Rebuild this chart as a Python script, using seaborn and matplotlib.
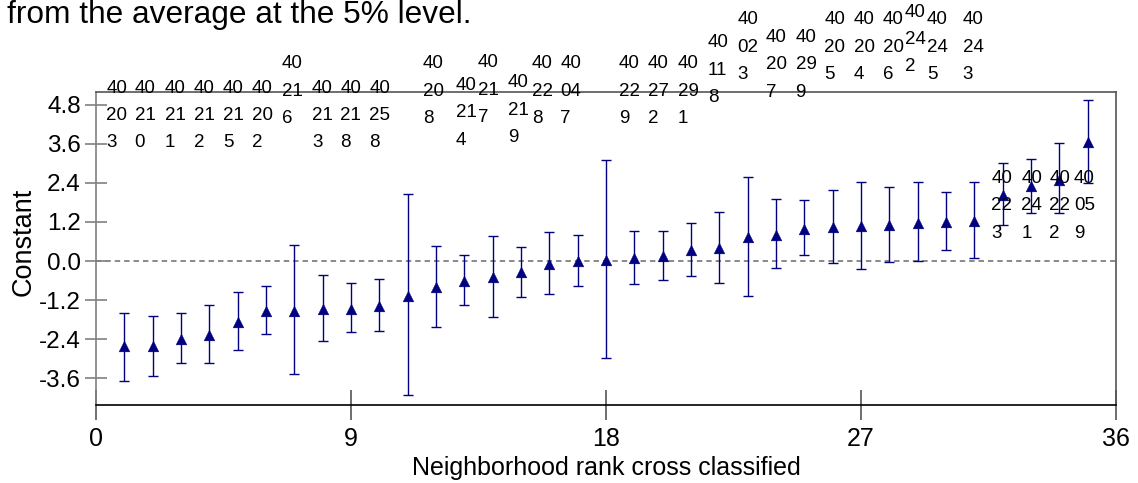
import numpy as np
import matplotlib
matplotlib.use("Agg")
import matplotlib.pyplot as plt
import seaborn as sns
import pandas as pd

# Neighbourhood residuals (constant) with 95% intervals, ranked
rank = list(range(1, 36))
estimate = [-2.62, -2.62, -2.40, -2.28, -1.87, -1.54, -1.52, -1.46, -1.46, -1.37,
            -1.06, -0.80, -0.62, -0.49, -0.33, -0.09, 0.00, 0.02, 0.08, 0.14,
            0.34, 0.39, 0.75, 0.80, 0.99, 1.06, 1.09, 1.11, 1.18, 1.21,
            1.24, 2.03, 2.29, 2.50, 3.67]
lower = [-3.67, -3.54, -3.13, -3.13, -2.74, -2.23, -3.46, -2.44, -2.19, -2.16,
         -4.12, -2.04, -1.36, -1.71, -1.09, -1.01, -0.78, -2.99, -0.71, -0.59,
         -0.46, -0.68, -1.06, -0.21, 0.19, -0.05, -0.24, -0.02, 0.00, 0.34,
         0.08, 1.12, 1.46, 1.49, 2.41]
upper = [-1.58, -1.68, -1.60, -1.35, -0.95, -0.78, 0.49, -0.43, -0.66, -0.54,
         2.05, 0.47, 0.19, 0.77, 0.44, 0.88, 0.81, 3.11, 0.93, 0.93,
         1.18, 1.50, 2.59, 1.89, 1.86, 2.18, 2.43, 2.26, 2.43, 2.13,
         2.43, 3.00, 3.14, 3.61, 4.93]
unit_id = ["40203", "40210", "40211", "40212", "40215", "40202", "40216", "40213",
           "40218", "40258", "", "40208", "40214", "40217", "40219", "40228",
           "40047", "", "40229", "40272", "40291", "40118", "40023", "40207",
           "40299", "40205", "40204", "40206", "40242", "40245", "40243",
           "40223", "40241", "40222", "40059"]

y_ticks = [-3.6, -2.4, -1.2, 0.0, 1.2, 2.4, 3.6, 4.8]
x_ticks = [0, 9, 18, 27, 36]

# placement of the identifier labels (shift from the point, height of the middle row)
label_dx = [-0.27, -0.27, -0.21, -0.19, -0.15, -0.13, -0.07, -0.01, -0.01, 0.02,
            0.0, -0.10, 0.06, -0.16, -0.10, -0.24, -0.24, 0.0, -0.18, -0.15,
            -0.10, -0.04, 0.02, 0.02, 0.06, 0.08, 0.12, 0.14, -0.09, -0.31,
            -0.04, -0.03, 0.03, 0.02, -0.12]
label_y = [4.47, 4.47, 4.47, 4.47, 4.47, 4.47, 5.21, 4.47, 4.47, 4.47,
           np.nan, 5.22, 4.55, 5.24, 4.63, 5.22, 5.22, np.nan, 5.22, 5.22,
           5.22, 5.86, 6.57, 6.03, 6.03, 6.57, 6.57, 6.57, 6.80, 6.57,
           6.57, 1.69, 1.69, 1.69, 1.69]

df = pd.DataFrame({"rank": rank, "estimate": estimate, "lower": lower, "upper": upper})

sns.set_theme(style="white")
plt.rcParams["font.family"] = ["Liberation Sans", "DejaVu Sans"]
plt.rcParams.update({"text.color": "black", "axes.labelcolor": "black",
                     "xtick.color": "black", "ytick.color": "black"})

navy = "#000080"
fig = plt.figure(figsize=(11.38, 4.83), dpi=100)
ax = fig.add_axes([96 / 1138, 78 / 483, 1020 / 1138, 313 / 483])

ax.axhline(0, color="#808080", lw=1.3, ls=(0, (3, 2.2)), zorder=1)

yerr = np.vstack([df["estimate"] - df["lower"], df["upper"] - df["estimate"]])
ax.errorbar(df["rank"], df["estimate"], yerr=yerr, fmt="none", ecolor=navy,
            elinewidth=1.0, capsize=3.3, capthick=1.0, zorder=2)
sns.scatterplot(data=df, x="rank", y="estimate", marker="^", s=60, color=navy,
                edgecolor=navy, linewidth=0.3, ax=ax, zorder=3, legend=False)

for r, uid, dx, ly in zip(rank, unit_id, label_dx, label_y):
    if not uid:
        continue
    txt = "\n".join(uid[i:i + 2] for i in range(0, len(uid), 2))
    ax.text(r + dx, ly, txt, ha="center", va="center", multialignment="left",
            fontsize=13.5, linespacing=1.8, color="black", clip_on=False, zorder=4)

ax.set_xlim(0, 36)
ax.set_ylim(-4.42, 5.19)
ax.set_xticks(x_ticks)
ax.set_xticklabels([str(t) for t in x_ticks])
ax.set_yticks(y_ticks)
ax.set_yticklabels([f"{t:.1f}" for t in y_ticks])

ax.tick_params(axis="y", direction="inout", length=16, width=1.2, color="#808080",
               labelcolor="black", labelsize=17.5, pad=3, left=True)
ax.tick_params(axis="x", direction="inout", length=21, width=1.2, color="#555555",
               labelcolor="black", labelsize=18, pad=5, bottom=True)

for side, col in [("left", "#808080"), ("bottom", "black"),
                  ("top", "#555555"), ("right", "#555555")]:
    ax.spines[side].set_visible(True)
    ax.spines[side].set_color(col)
    ax.spines[side].set_linewidth(1.2)

ax.set_xlabel("Neighborhood rank cross classified", fontsize=18, labelpad=4,
              color="black")
ax.set_ylabel("Constant", fontsize=19.5, color="black")
ax.yaxis.set_label_coords(-0.058, 0.52)

fig.text(7 / 1138, 1 - 23 / 483, "from the average at the 5% level.",
         fontsize=22.8, ha="left", va="baseline", color="black")

fig.savefig("out.png", dpi=100, facecolor="white")
